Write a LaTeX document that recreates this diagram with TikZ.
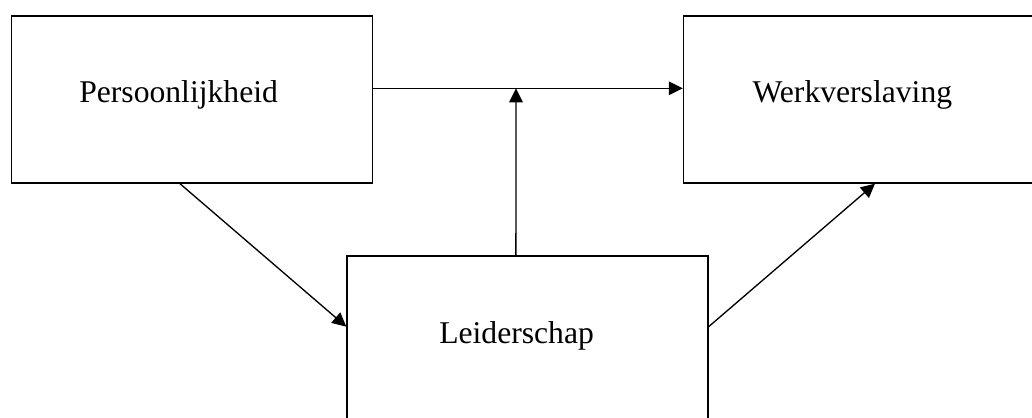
\documentclass[tikz,border=0pt]{standalone}
\usepackage{fontspec}
\setmainfont{Liberation Serif}
\usetikzlibrary{arrows.meta,positioning}

\begin{document}
\begin{tikzpicture}[
  x=0.025cm, y=-0.025cm,
  box/.style={draw, line width=1pt, minimum width=9.02cm,
    minimum height=4.17cm, inner sep=0pt},
  lbl/.style={anchor=base west, inner sep=0pt,
    font=\fontsize{22.5}{27}\selectfont},
  arr/.style={-{Triangle[length=3.5mm, width=3.4mm]}, line width=0.95pt}
]

% page frame
\clip (0,0) rectangle (1032,417);

% Persoonlijkheid
\node[box] (pers) at (191.9,99.5) {};
\node[lbl] (perstxt) at (79,102.5) {Persoonlijkheid};

% Werkverslaving
\node[box] (werk) at (864,99.5) {};
\node[lbl] (werktxt) at (752.3,102.5) {Werkverslaving};

% Leiderschap
\node[box] (leid) at (527.5,339.5) {};
\node[lbl] (leidtxt) at (439,343.5) {Leiderschap};

% Arrows
\draw[arr] ([yshift=0.28cm]pers.east) -- ([yshift=0.28cm]werk.west);
\coordinate (join) at (516,88.3);
\draw[arr] ([xshift=-0.29cm]leid.north) -- (join);
\draw[arr] ([xshift=-0.3cm]pers.south) -- ([yshift=0.32cm]leid.west);
\draw[arr] ([yshift=0.32cm]leid.east) -- ([xshift=0.275cm]werk.south);

\end{tikzpicture}
\end{document}
